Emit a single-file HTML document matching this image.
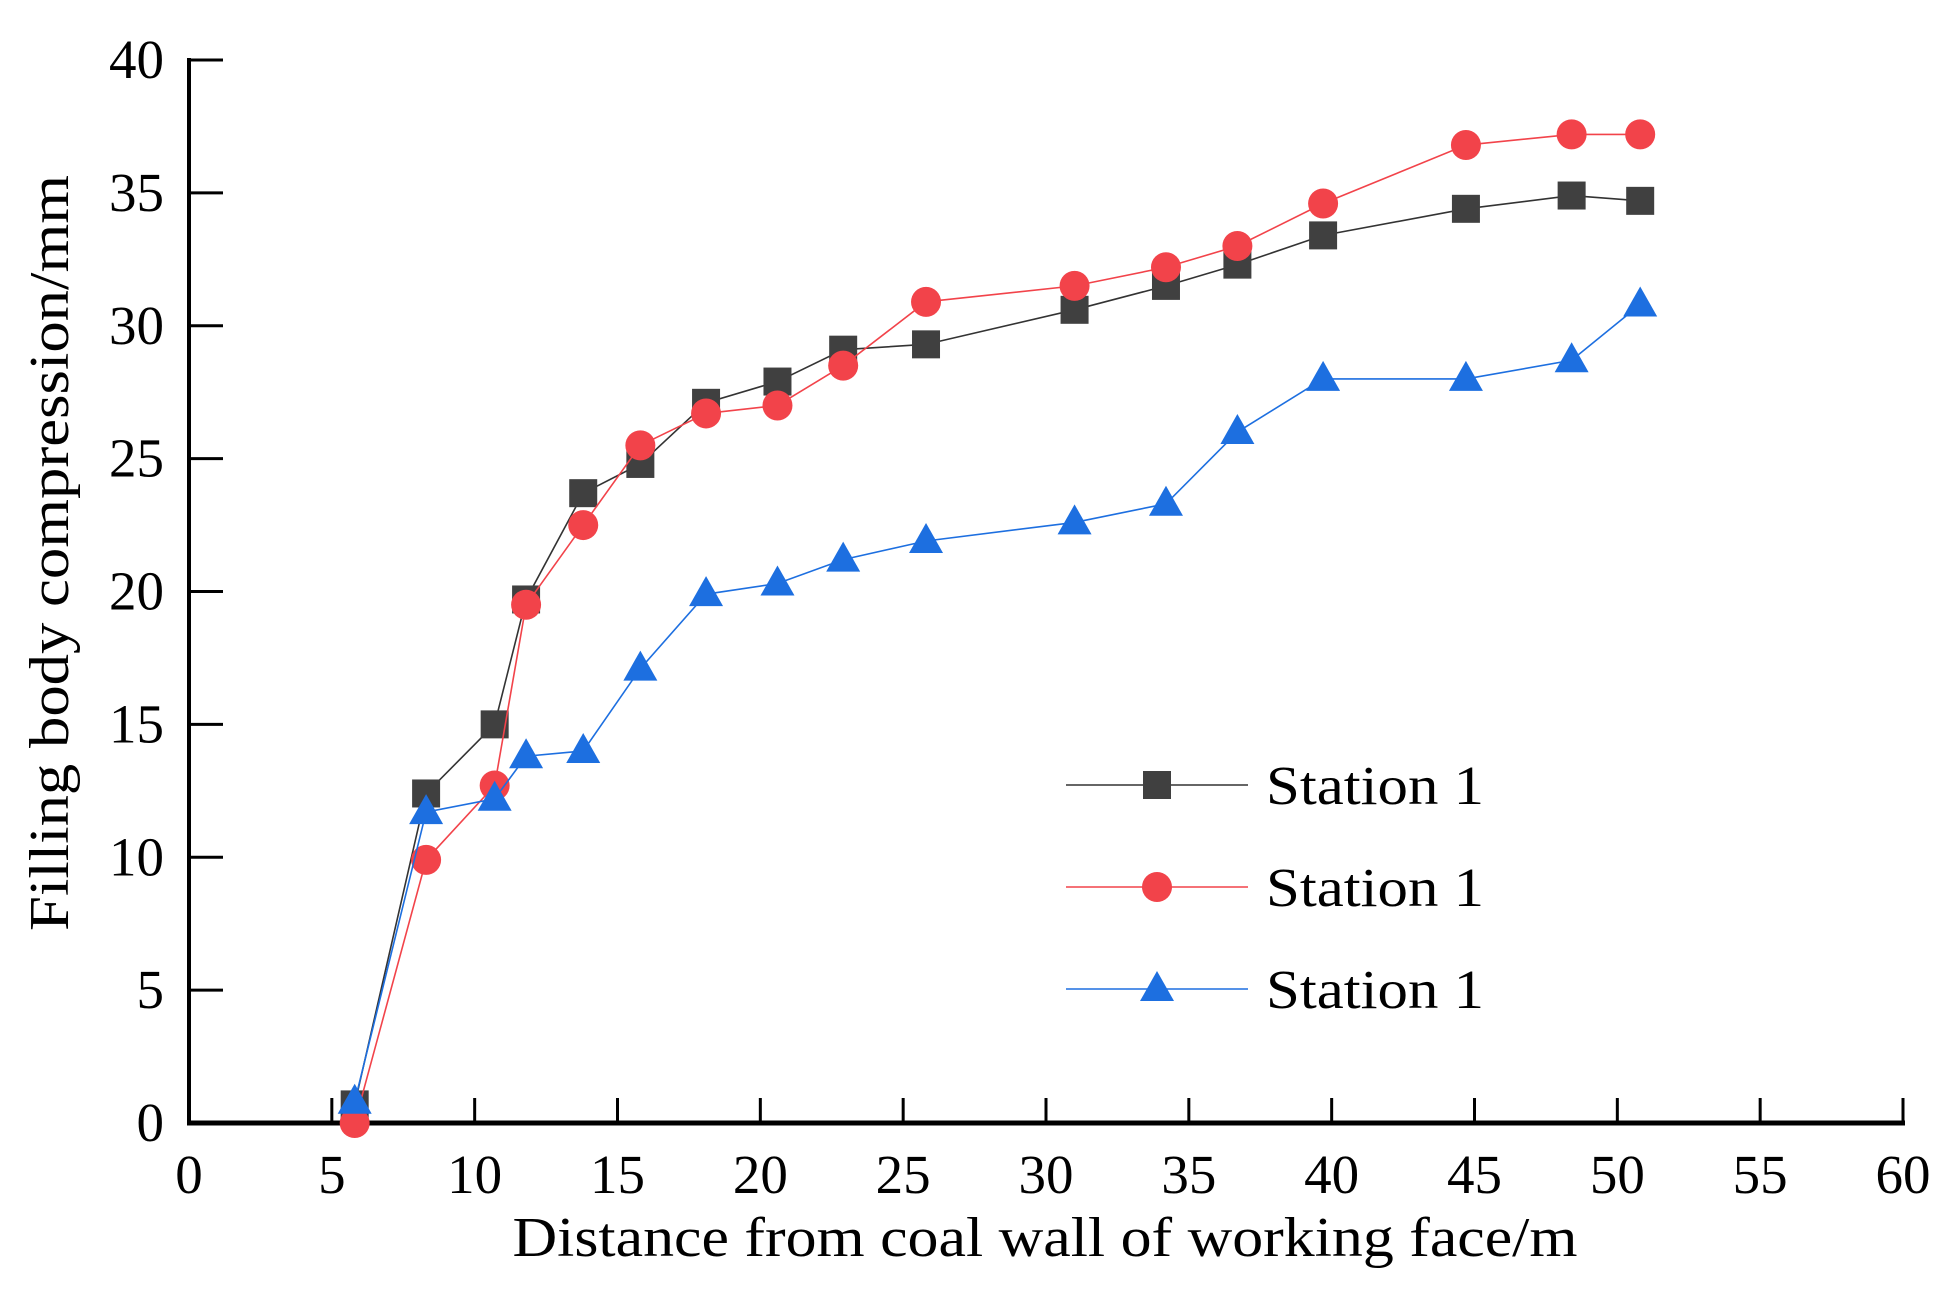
<!DOCTYPE html>
<html><head><meta charset="utf-8"><style>
html,body{margin:0;padding:0;background:#fff;}
svg{display:block;font-family:"Liberation Serif",serif;}
</style></head><body>
<svg id="chart" width="1950" height="1294">
<g id="axes"></g>
<g id="series"></g>
<g id="legend"></g>
<text x="1045" y="1256" font-size="56" text-anchor="middle" textLength="1065" lengthAdjust="spacingAndGlyphs">Distance from coal wall of working face/m</text>
<text transform="translate(68,553) rotate(-90)" font-size="56" text-anchor="middle" textLength="756" lengthAdjust="spacingAndGlyphs">Filling body compression/mm</text>
</svg>
<script>
const xValues=[5.8,8.3,10.7,11.8,13.8,15.8,18.1,20.6,22.9,25.8,31.0,34.2,36.7,39.7,44.7,48.4,50.8];
const seriesA=[0.7,12.4,15.0,19.7,23.7,24.8,27.1,27.9,29.1,29.3,30.6,31.5,32.3,33.4,34.4,34.9,34.7];
const seriesB=[0,9.9,12.7,19.5,22.5,25.5,26.7,27.0,28.5,30.9,31.5,32.2,33.0,34.6,36.8,37.2,37.2];
const seriesC=[0.8,11.7,12.2,13.8,14.0,17.1,19.9,20.3,21.2,21.9,22.6,23.3,26.0,28.0,28.0,28.7,30.8];
const xTicks=[0,5,10,15,20,25,30,35,40,45,50,55,60];
const yTicks=[0,5,10,15,20,25,30,35,40];
const legendLabels=["Station 1","Station 1","Station 1"];

const NS="http://www.w3.org/2000/svg";
const X0=189,X1=1903,Y0=1123,Y1=60;
const sx=v=>X0+(v-0)/(60-0)*(X1-X0);
const sy=v=>Y0-(v-0)/(40-0)*(Y0-Y1);
function mk(tag,attrs,parent){const e=document.createElementNS(NS,tag);for(const k in attrs)e.setAttribute(k,attrs[k]);parent.appendChild(e);return e;}
const axes=document.getElementById('axes');
let e;
e=mk('line',{x1:X0,y1:Y1-2,x2:X0,y2:Y0+2,stroke:'#000','stroke-width':4},axes);


e=mk('line',{x1:X0-2,y1:Y0,x2:X1+2,y2:Y0,stroke:'#000','stroke-width':5},axes);


xTicks.forEach(t=>{
  let l=mk('line',{x1:sx(t),y1:Y0,x2:sx(t),y2:Y0-25,stroke:'#000','stroke-width':3},axes);
  
  
  let tx=mk('text',{x:sx(t),y:1193,'font-size':55,'text-anchor':'middle'},axes);
  tx.textContent=t;
  
  
});
yTicks.forEach(t=>{
  let l=mk('line',{x1:X0,y1:sy(t),x2:X0+34,y2:sy(t),stroke:'#000','stroke-width':3},axes);
  
  
  let tx=mk('text',{x:164,y:sy(t)+18,'font-size':55,'text-anchor':'end'},axes);
  tx.textContent=t;
  
  
});
const defs=[
 {vals:seriesA,color:'#404040',line:'#333',shape:'square',name:'station-1-square'},
 {vals:seriesB,color:'#f2434a',line:'#f2434a',shape:'circle',name:'station-1-circle'},
 {vals:seriesC,color:'#1d6fe0',line:'#1d6fe0',shape:'triangle',name:'station-1-triangle'}
];
function marker(shape,x,y,color,parent){
  let m;
  if(shape==='square') m=mk('rect',{x:x-14,y:y-14,width:28,height:28,fill:color},parent);
  else if(shape==='circle') m=mk('circle',{cx:x,cy:y,r:15,fill:color},parent);
  else m=mk('polygon',{points:`${x},${y-18} ${x-17},${y+12} ${x+17},${y+12}`,fill:color},parent);
  return m;
}
const series=document.getElementById('series');
defs.forEach(d=>{
  const g=mk('g',{},series);
  
  
  const pts=xValues.map((x,i)=>sx(x)+','+sy(d.vals[i])).join(' ');
  let pl=mk('polyline',{points:pts,fill:'none',stroke:d.line,'stroke-width':1.6},g);
  
  
  xValues.forEach((x,i)=>{
    let m=marker(d.shape,sx(x),sy(d.vals[i]),d.color,g);
    
    
  });
});
const legend=document.getElementById('legend');
defs.forEach((d,i)=>{
  const y=785+i*102;
  const g=mk('g',{},legend);
  
  
  mk('line',{x1:1066,y1:y,x2:1248,y2:y,stroke:d.line,'stroke-width':1.6},g);
  marker(d.shape,1157,y,d.color,g);
  let t=mk('text',{x:1266,y:y+19,'font-size':55,textLength:218,lengthAdjust:'spacingAndGlyphs'},g);
  t.textContent=legendLabels[i];
  
  
});
</script>
</body></html>
